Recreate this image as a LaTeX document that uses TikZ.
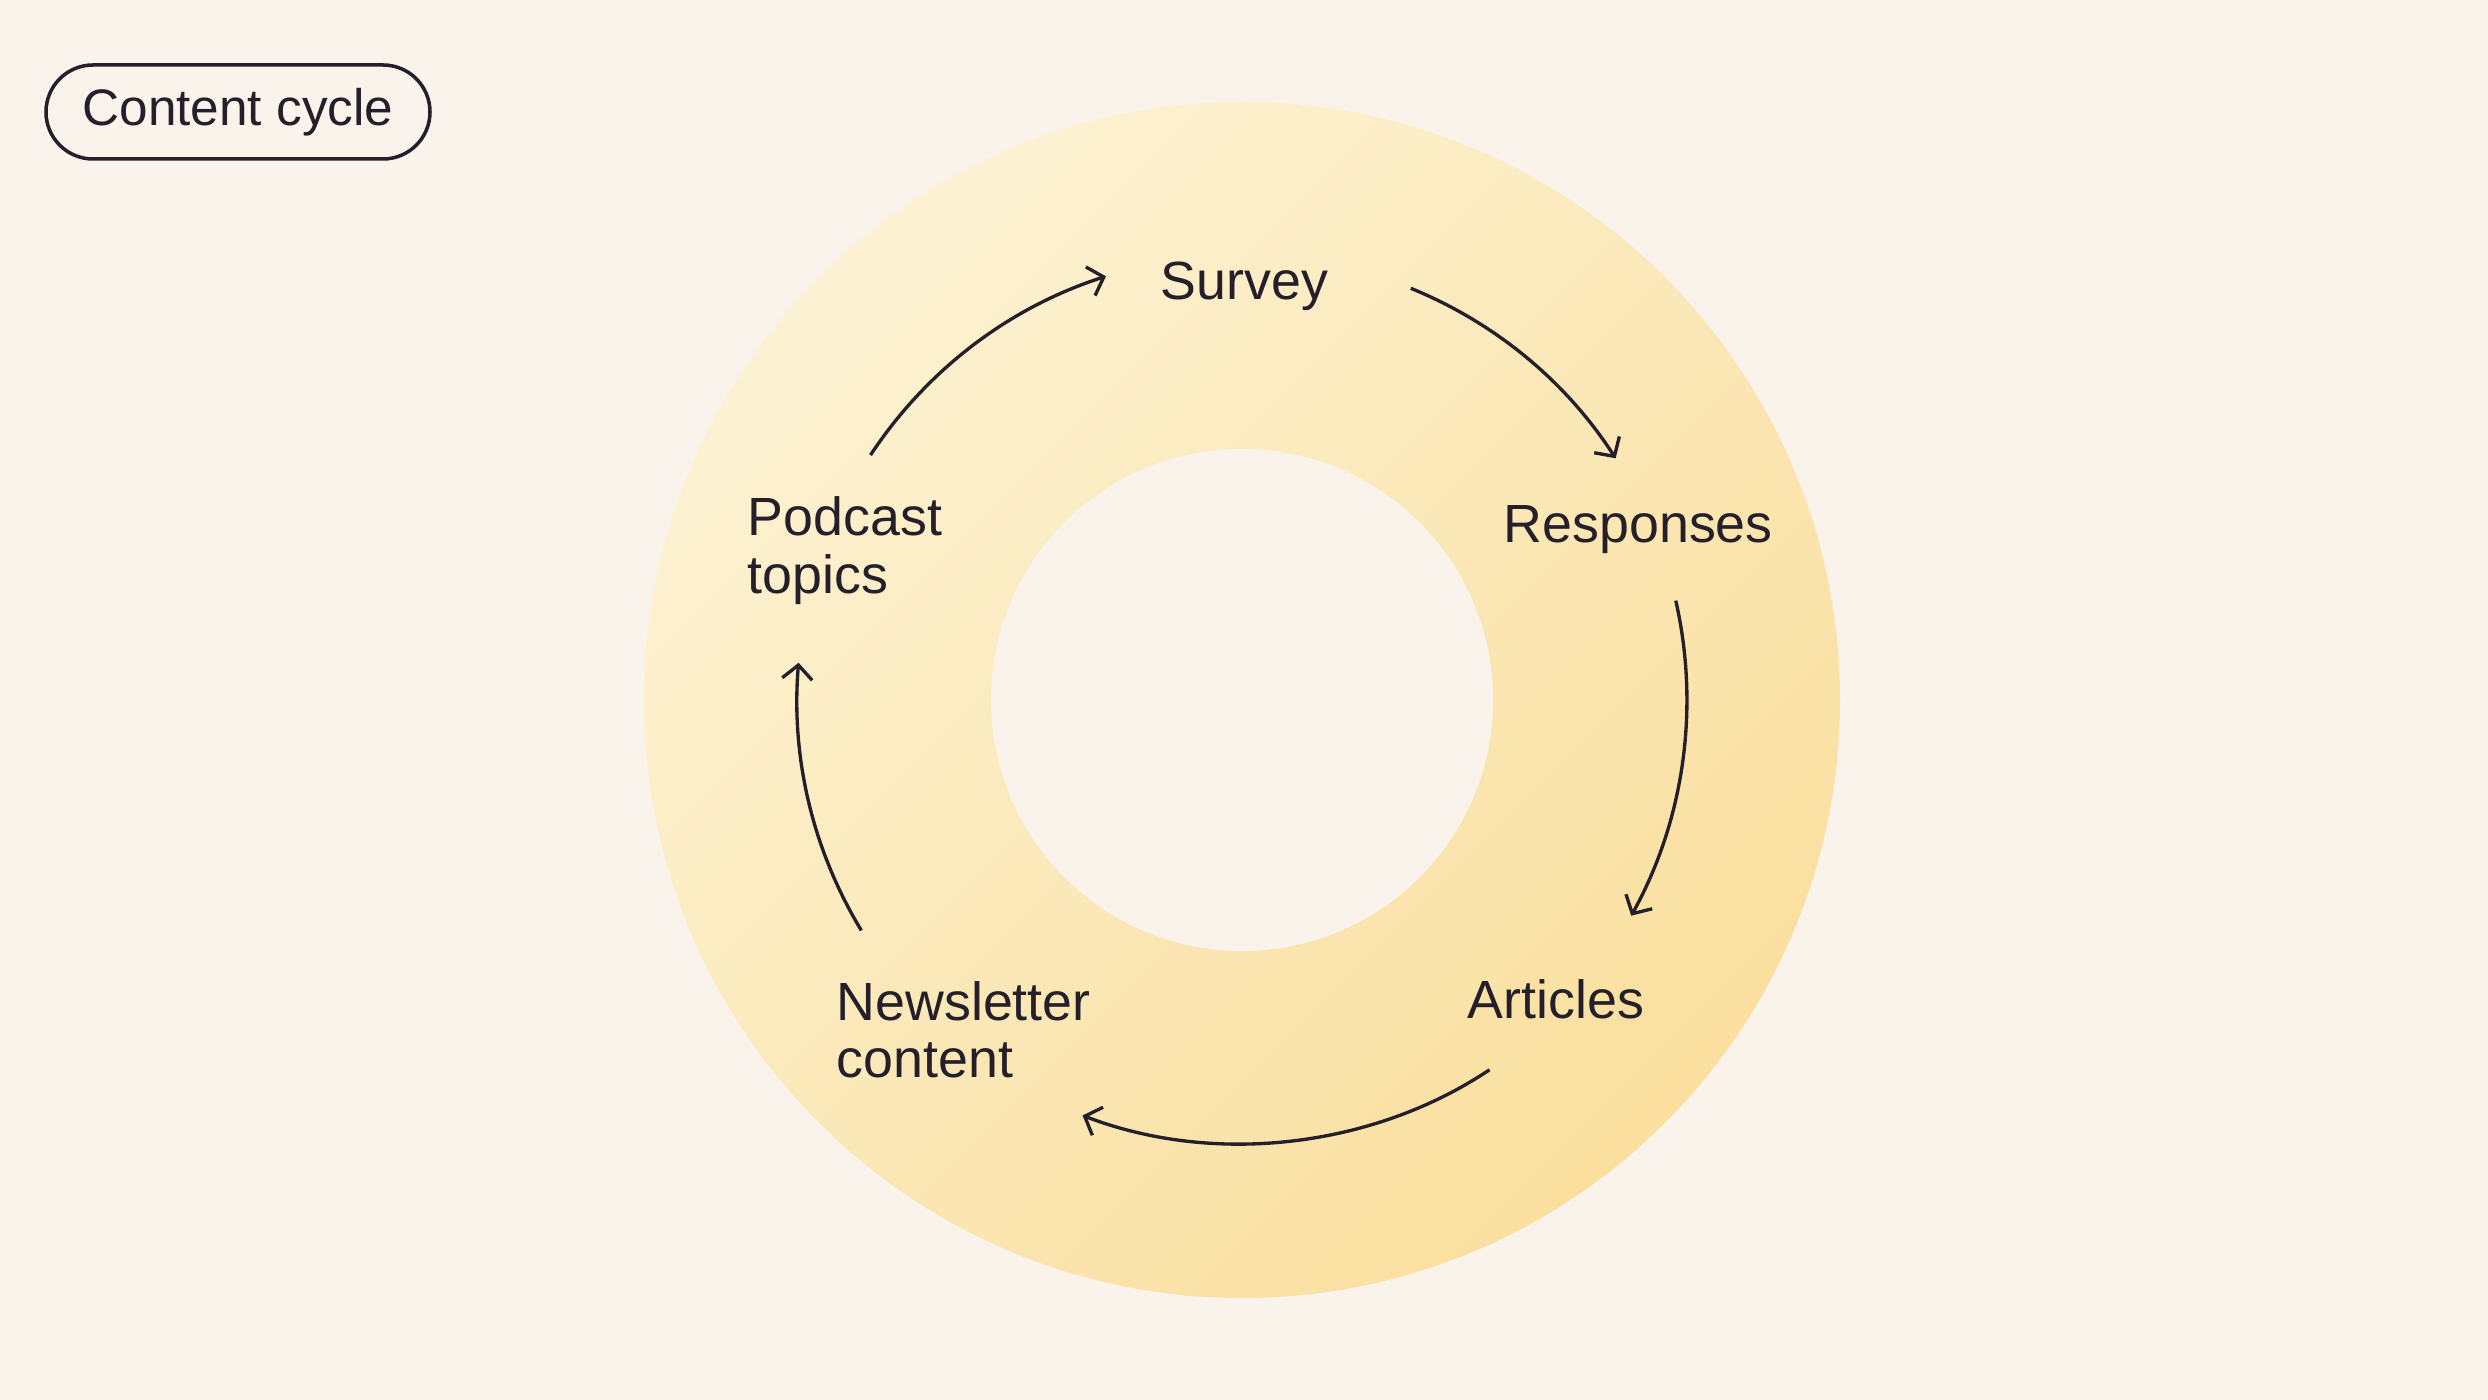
\documentclass[tikz,border=0pt]{standalone}
\usepackage{fontspec}
\setmainfont{Liberation Sans}
\usepackage{xcolor}
\usetikzlibrary{arrows.meta,positioning}

\definecolor{bgcream}{HTML}{F9F3EC}
\definecolor{ringlight}{HTML}{FCF2D3}
\definecolor{ringdark}{HTML}{FADF9E}
\definecolor{inkdark}{HTML}{241F29}

\begin{document}
\begin{tikzpicture}[
  stage/.style={font=\fontsize{15.3pt}{16.5pt}\selectfont, text=inkdark, inner sep=0pt, align=left},
  cyc/.style={draw=inkdark, line width=0.95pt, -{Straight Barb[length=1.4mm,width=3mm]}},
  tag/.style={draw=inkdark, line width=1pt, rounded corners=0.47cm, minimum width=3.84cm, minimum height=0.94cm, font=\fontsize{14.6pt}{17pt}\selectfont, text=inkdark}
]
\useasboundingbox (0,0) rectangle (24.88,14);
\fill[bgcream] (0,0) rectangle (24.88,14);

% ring
\coordinate (ctr) at (12.42,7.00);
\shade[shading=axis, top color=ringlight, bottom color=ringdark, shading angle=45] (ctr) circle[radius=5.98];
\fill[bgcream] (ctr) circle[radius=2.51];

\node[tag] (title) at (2.38,12.88) {Content cycle};

% stages (base = last line)
\node[stage, anchor=base west] (survey) at (11.60,11.00) {Survey};
\node[stage, anchor=base west] (responses) at (15.03,8.57) {Responses};
\node[stage, anchor=base west] (articles) at (14.67,3.81) {Articles};
\node[stage, anchor=base west] (newsletter) at (8.36,3.22) {Newsletter\\content};
\node[stage, anchor=base west] (podcast) at (7.47,8.06) {Podcast\\topics};

% arrow ends on the arrow circle
\foreach \n/\a in {s1/146.6, e1/107.8, s2/67.7, e2/32.9, s3/12.9, e3/-29.0, s4/-56.2, e4/-111.0, s5/211.2, e5/175.2}
  \path (ctr) ++(\a:4.45) coordinate (\n);

\foreach \i/\b in {1/19.4, 2/17.4, 3/20.9, 4/27.4, 5/18.0}
  \draw[cyc] (s\i) to[bend left=\b, looseness=0.88] (e\i);
\end{tikzpicture}
\end{document}
